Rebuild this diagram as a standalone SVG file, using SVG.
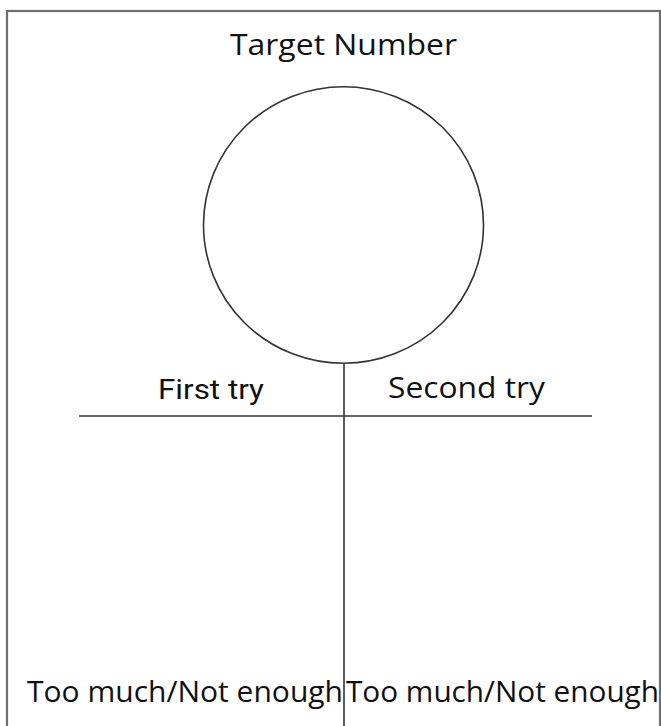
<svg xmlns="http://www.w3.org/2000/svg" width="661" height="726" viewBox="0 0 661 726">
<style>
.t{font-family:"Open Sans","Liberation Sans",sans-serif;font-size:30px;fill:#111}
.r{font-family:Roboto,"Liberation Sans",sans-serif;font-size:27px;fill:#111}
.ln{stroke:#333;stroke-width:1.6;fill:none}
</style>
<rect x="7" y="11" width="653" height="725" fill="#fff" stroke="#6e6e6e" stroke-width="2.2"/>
<g id="target">
<text class="t" x="230" y="55" textLength="227" lengthAdjust="spacingAndGlyphs">Target Number</text>
<ellipse cx="343.5" cy="225" rx="140" ry="138.3" class="ln" stroke="#222"/>
</g>
<g id="first">
<text class="r" x="158" y="399" textLength="106" lengthAdjust="spacingAndGlyphs">First try</text>
</g>
<g id="second">
<text class="t" x="388" y="398" textLength="157" lengthAdjust="spacingAndGlyphs">Second try</text>
</g>
<g id="left-result">
<text class="t" x="27" y="702" textLength="316" lengthAdjust="spacingAndGlyphs">Too much/Not enough</text>
</g>
<g id="right-result">
<text class="t" x="346" y="702" textLength="313" lengthAdjust="spacingAndGlyphs">Too much/Not enough</text>
</g>
<g id="connectors">
<line class="ln" x1="344" y1="363" x2="344" y2="726"/>
<line class="ln" x1="79" y1="416" x2="592" y2="416"/>
</g>
</svg>
